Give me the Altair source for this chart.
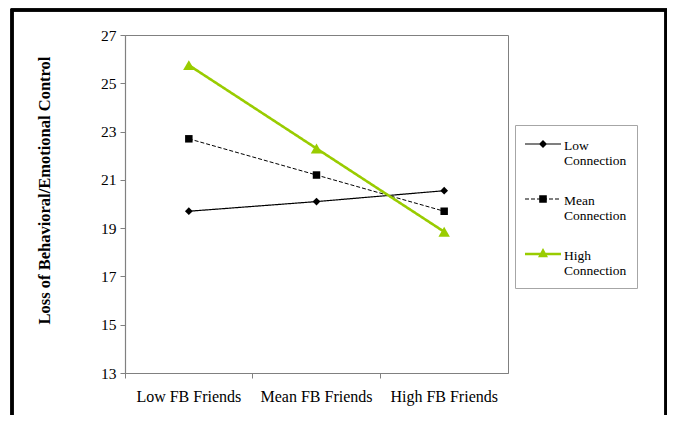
import altair as alt
import pandas as pd

categories = ["Low FB Friends", "Mean FB Friends", "High FB Friends"]
series_names = ["Low Connection", "Mean Connection", "High Connection"]
low_conn = [19.7, 20.1, 20.55]
mean_conn = [22.7, 21.2, 19.7]
high_conn = [25.75, 22.3, 18.85]
y_ticks = [13, 15, 17, 19, 21, 23, 25, 27]

rows = []
for name, vals in zip(series_names, [low_conn, mean_conn, high_conn]):
    for c, v in zip(categories, vals):
        rows.append({"series": name, "cat": c, "value": v})
df = pd.DataFrame(rows)

GREEN = "#99CC00"
styles = {
    "Low Connection": dict(color="black", dash=[1, 0], width=1.2, shape="diamond", size=60),
    "Mean Connection": dict(color="black", dash=[4, 2], width=1.0, shape="square", size=56),
    "High Connection": dict(color=GREEN, dash=[1, 0], width=2.6, shape="triangle-up", size=130),
}

# legend glyph paths: 1 unit == 14.5px, line spans 36px from the symbol's left edge,
# glyph drawn 5.5px above the label anchor
U = 14.5
def u(px):
    return round(px / U, 4)

X0, X1, XM = -1.0, u(36 - U), u(18 - U)
YC = u(-5.5)

def hbar(x0, x1, half):
    return f"M{x0},{round(YC - half, 4)}H{x1}V{round(YC + half, 4)}H{x0}Z"

def dash_path(half):
    segs = []
    x = X0
    d, g = u(4), u(2)
    while x < X1:
        e = min(x + d, X1)
        segs.append(hbar(round(x, 4), round(e, 4), half))
        x = e + g
    return "".join(segs)

a = u(4)
p_low = hbar(X0, X1, u(0.6)) + f" M{XM},{YC - a}L{XM + a},{YC}L{XM},{YC + a}L{XM - a},{YC}Z"
s = u(3.8)
p_mean = dash_path(u(0.55)) + f" M{XM - s},{YC - s}H{XM + s}V{YC + s}H{XM - s}Z"
tw, tt, tb = u(5), u(6), u(3.3)
p_high = hbar(X0, X1, u(1.3)) + f" M{XM},{YC - tt}L{XM + tw},{YC + tb}L{XM - tw},{YC + tb}Z"

x_enc = alt.X("cat:N", sort=categories,
              scale=alt.Scale(type="band", paddingInner=0, paddingOuter=0),
              axis=alt.Axis(title=None, labelAngle=0, bandPosition=0,
                            tickSize=5, labelPadding=10, labelFontSize=16))
y_enc = alt.Y("value:Q", scale=alt.Scale(domain=[13, 27], nice=False, zero=False),
              axis=alt.Axis(values=y_ticks, title="Loss of Behavioral/Emotional Control",
                            titleFontWeight="bold", titleFontSize=16.5, titlePadding=48,
                            titleY=155,
                            tickSize=5, labelPadding=4, labelFontSize=15.5, grid=False))

layers = []
for name in series_names:
    st = styles[name]
    sub = alt.Chart(df).transform_filter(alt.datum.series == name)
    layers.append(sub.mark_line(color=st["color"], strokeDash=st["dash"], strokeWidth=st["width"])
                  .encode(x=x_enc, y=y_enc))
    layers.append(sub.mark_point(shape=st["shape"], size=st["size"], filled=True, opacity=1,
                                 color=st["color"], strokeWidth=0)
                  .encode(x=x_enc, y=y_enc))

legend_layer = alt.Chart(df).transform_filter(alt.datum.value < 0).mark_point(
    filled=True, opacity=1).encode(
    x=x_enc, y=y_enc,
    color=alt.Color("series:N",
                    scale=alt.Scale(domain=series_names, range=["black", "black", GREEN]),
                    legend=alt.Legend(title=None, orient="none", legendX=390, legendY=90,
                                      padding=10, strokeColor="#a6a6a6", fillColor="white",
                                      symbolSize=(2 * U) ** 2, symbolStrokeWidth=0,
                                      symbolOpacity=1,
                                      labelFont="Liberation Serif", labelFontSize=13.5,
                                      labelExpr="split(datum.label, ' ')",
                                      labelBaseline="alphabetic", labelOffset=10,
                                      rowPadding=22, labelLimit=200)),
    shape=alt.Shape("series:N",
                    scale=alt.Scale(domain=series_names, range=[p_low, p_mean, p_high])),
)

frame = alt.Chart(df).mark_rect(fill=None, stroke="black", strokeWidth=2.5).encode(
    x=alt.value(-113), x2=alt.value(541), y=alt.value(-25), y2=alt.value(420))

chart = alt.layer(frame, *layers, legend_layer).properties(
    width=383, height=338,
    autosize=alt.AutoSizeParams(type="none"),
    padding={"left": 117, "top": 27, "right": 159, "bottom": 42},
).configure_view(stroke="#808080", strokeWidth=1).configure_axis(
    labelFont="Liberation Serif", titleFont="Liberation Serif", labelColor="black",
    titleColor="black", domainColor="#808080", tickColor="#808080", domainWidth=1.2,
)

chart.save("out.html", embed_options={"renderer": "svg", "actions": False})
